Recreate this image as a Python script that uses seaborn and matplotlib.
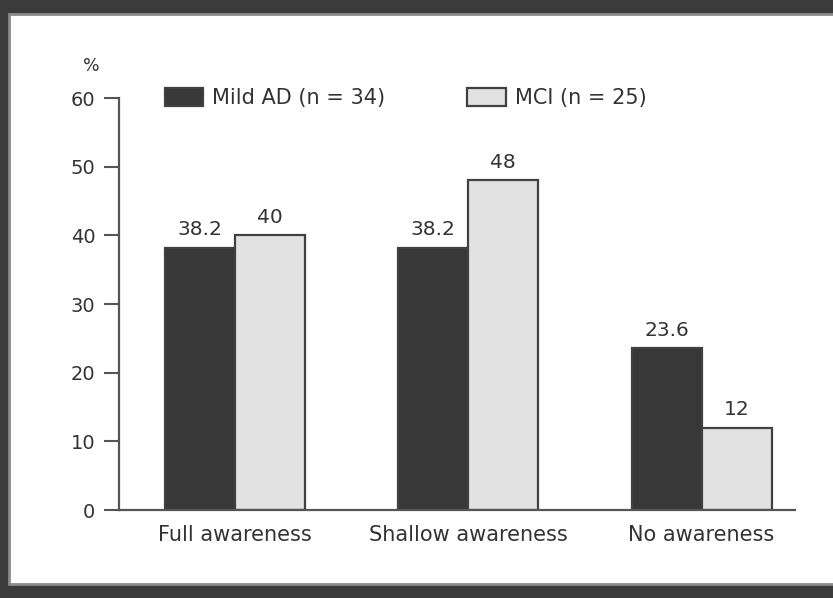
import matplotlib
matplotlib.use("Agg")
import matplotlib.pyplot as plt
import seaborn as sns
import pandas as pd
from matplotlib.patches import Rectangle

categories = ["Full awareness", "Shallow awareness", "No awareness"]
groups = ["Mild AD (n = 34)", "MCI (n = 25)"]
mild_ad = [38.2, 38.2, 23.6]
mci = [40, 48, 12]
value_labels = {"Mild AD (n = 34)": ["38.2", "38.2", "23.6"],
                "MCI (n = 25)": ["40", "48", "12"]}
y_ticks = [0, 10, 20, 30, 40, 50, 60]

df = pd.DataFrame({
    "category": categories * 2,
    "group": [groups[0]] * 3 + [groups[1]] * 3,
    "value": mild_ad + mci,
})

sns.set_theme(style="white")
plt.rcParams["font.family"] = ["DejaVu Sans"]

W, H = 833, 598
fig = plt.figure(figsize=(W / 100, H / 100), dpi=100, facecolor="#3b3b3b")
# white scanned panel
panel = Rectangle((9 / W, (H - 584) / H), 1.0, (584 - 14) / H,
                  transform=fig.transFigure, facecolor="white",
                  edgecolor="#8a8a8a", linewidth=2.0, zorder=-10)
fig.patches.append(panel)

ax = fig.add_axes([119 / W, (H - 510) / H, (795 - 119) / W, (510 - 98) / H])
ax.set_facecolor("none")
ax.set_zorder(1)

text_c = "#333333"
sns.barplot(data=df, x="category", y="value", hue="group",
            order=categories, hue_order=groups,
            palette=["#383838", "#e2e2e2"], width=0.6,
            edgecolor="#404040", linewidth=1.6, saturation=1,
            ax=ax)

for cont, g in zip(ax.containers, groups):
    ax.bar_label(cont, labels=value_labels[g], padding=6,
                 fontsize=14.5, color=text_c)

ax.set_ylim(0, 60)
ax.set_xlim(-0.495, 2.4)
ax.set_yticks(y_ticks)
ax.set_yticklabels([str(t) for t in y_ticks])
ax.set_xlabel("")
ax.set_ylabel("")
for s in ["top", "right"]:
    ax.spines[s].set_visible(False)
for s in ["left", "bottom"]:
    ax.spines[s].set_color("#555555")
    ax.spines[s].set_linewidth(1.6)
ax.tick_params(axis="y", which="major", length=11, width=1.5,
               color="#555555", direction="out", pad=6,
               labelsize=14, labelcolor=text_c, left=True)
ax.tick_params(axis="x", length=0, pad=11, labelsize=15, labelcolor=text_c)

ax.text(-0.041, 64.7, "%", ha="center", va="center", fontsize=12.5,
        color=text_c, transform=ax.get_yaxis_transform())

h, l = ax.get_legend_handles_labels()
ax.legend(h, l, loc="center left", bbox_to_anchor=(0.068, 1.0),
          ncol=2, frameon=False, borderpad=0, borderaxespad=0,
          handlelength=1.83, handleheight=0.96, handletextpad=0.43,
          columnspacing=3.95, fontsize=15, labelcolor=text_c)

fig.savefig("out.png", dpi=100, facecolor=fig.get_facecolor())
